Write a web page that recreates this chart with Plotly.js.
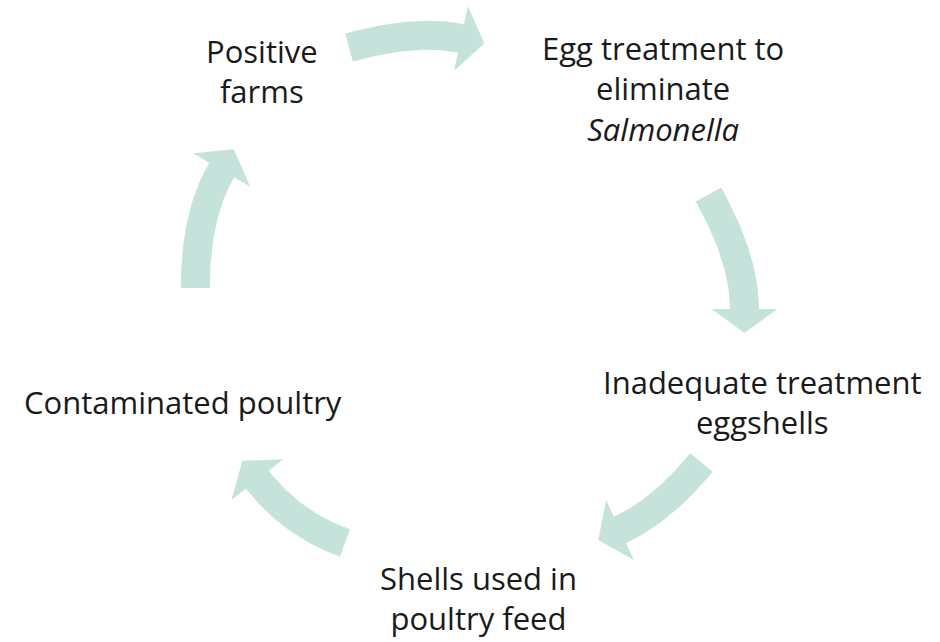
<!DOCTYPE html>
<html>
<head>
<meta charset="utf-8">
<script src="https://cdn.plot.ly/plotly-3.0.1.min.js"></script>
<style>html,body{margin:0;padding:0;background:#fff;}#chart{width:940px;height:642px;}</style>
</head>
<body>
<div id="chart"></div>
<script>
// ---- content ----
const stages = [
  "Positive<br>farms",
  "Egg treatment to<br>eliminate<br><i>Salmonella</i>",
  "Inadequate treatment<br>eggshells",
  "Shells used in<br>poultry feed",
  "Contaminated poultry"
];

// ---- layout geometry (pixel-space canvas coordinates) ----
const labelPos = [[262, 71], [663, 88], [762, 402], [478, 598], [183, 402]];
// each arrow: tail centre, control point, head-base centre
const arrowPaths = [
  [[349, 47.5], [416.4, 28.9], [461, 38.5]],
  [[708.5, 194.5], [744.5, 259], [744.5, 309]],
  [[701.5, 462.5], [661.8, 510.6], [620, 530]],
  [[345, 543], [292.2, 524.1], [257.3, 479.7]],
  [[195.3, 288], [195.3, 214.9], [221.7, 170]]
];
const shaftW = 29, headW = 66, headL = 24;
const arrowColor = '#c6e3db';

function arrowPolygon(p) {
  const [P0, C, P1] = p;
  const N = 40, L = [], R = [];
  const bez = t => [
    (1-t)*(1-t)*P0[0] + 2*(1-t)*t*C[0] + t*t*P1[0],
    (1-t)*(1-t)*P0[1] + 2*(1-t)*t*C[1] + t*t*P1[1]
  ];
  const der = t => [
    2*(1-t)*(C[0]-P0[0]) + 2*t*(P1[0]-C[0]),
    2*(1-t)*(C[1]-P0[1]) + 2*t*(P1[1]-C[1])
  ];
  for (let i = 0; i <= N; i++) {
    const t = i / N, b = bez(t), d = der(t);
    const len = Math.hypot(d[0], d[1]);
    const n = [-d[1]/len, d[0]/len];
    L.push([b[0] + n[0]*shaftW/2, b[1] + n[1]*shaftW/2]);
    R.push([b[0] - n[0]*shaftW/2, b[1] - n[1]*shaftW/2]);
  }
  const d1 = der(1), l1 = Math.hypot(d1[0], d1[1]);
  const u = [d1[0]/l1, d1[1]/l1], n1 = [-u[1], u[0]];
  const pts = [...L,
    [P1[0] + n1[0]*headW/2, P1[1] + n1[1]*headW/2],
    [P1[0] + u[0]*headL, P1[1] + u[1]*headL],
    [P1[0] - n1[0]*headW/2, P1[1] - n1[1]*headW/2],
    ...R.reverse()];
  pts.push(pts[0]);
  return pts;
}

const traces = arrowPaths.map(p => {
  const pts = arrowPolygon(p);
  return {
    x: pts.map(q => q[0]), y: pts.map(q => q[1]),
    type: 'scatter', mode: 'lines', fill: 'toself',
    fillcolor: arrowColor, line: {width: 0, color: arrowColor},
    hoverinfo: 'skip', showlegend: false
  };
});

const annotations = stages.map((s, i) => ({
  text: s, x: labelPos[i][0], y: labelPos[i][1], xref: 'x', yref: 'y',
  showarrow: false, xanchor: 'center', yanchor: 'middle', align: 'center',
  font: {family: 'Open Sans, sans-serif', size: 31, color: '#1a1a1a'}
}));

const layout = {
  width: 940, height: 642,
  margin: {l: 0, r: 0, t: 0, b: 0},
  paper_bgcolor: '#ffffff', plot_bgcolor: '#ffffff',
  xaxis: {range: [0, 940], visible: false, fixedrange: true},
  yaxis: {range: [642, 0], visible: false, fixedrange: true},
  annotations: annotations,
  showlegend: false
};

Plotly.newPlot('chart', traces, layout, {displayModeBar: false, staticPlot: true});
</script>
</body>
</html>
